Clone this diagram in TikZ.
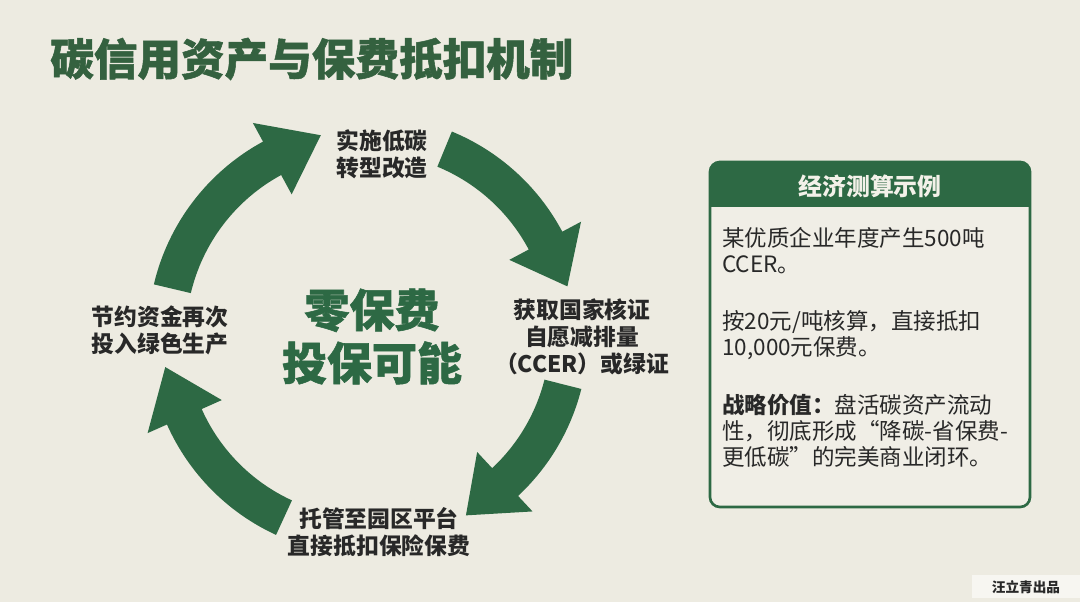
\documentclass[tikz,border=0pt]{standalone}
\usepackage{fontspec}
\usepackage{xcolor}
\usepackage{tikz}
\newfontfamily\cjk{Noto Sans CJK SC}
\newfontfamily\cjkheavy{Noto Sans CJK SC}[BoldFeatures={FakeBold=1.2}]
\definecolor{paper}{RGB}{237,235,225}
\definecolor{boxpaper}{RGB}{240,238,230}
\definecolor{leafgreen}{RGB}{45,105,68}
\definecolor{titlegreen}{RGB}{52,97,63}
\definecolor{inkgray}{RGB}{40,40,40}
\definecolor{cream}{RGB}{243,241,233}
\tikzset{
	steplabel/.style={align=center, text=inkgray, inner sep=0pt, font=\cjk\bfseries\fontsize{16.2}{19.2}\selectfont},
	bodytext/.style={align=left, anchor=west, text=inkgray, inner sep=0pt, font=\cjk\fontsize{16}{18.5}\selectfont},
	pics/ringarrow/.style n args={3}{code={
		\fill[leafgreen] (#1:5.5cm) arc[start angle=#1, end angle=#2, radius=5.5cm]
			-- (#2:6.03cm) -- (#3:5.13cm) -- (#2:4cm) -- (#2:4.55cm)
			arc[start angle=#2, end angle=#1, radius=4.55cm] -- cycle;
	}}
}

\begin{document}
\begin{tikzpicture}[x=0.025cm,y=0.025cm]
	\fill[paper] (0,0) rectangle (1080,602);
	\useasboundingbox (0,0) rectangle (1080,602);

	\node[anchor=west, inner sep=0pt, text=titlegreen, font=\cjkheavy\bfseries\fontsize{31}{36}\selectfont] (title) at (50,543) {碳信用资产与保费抵扣机制};

	% cycle
	\coordinate (cyc) at (368,267);
	\pic at (cyc) {ringarrow={166.7}{118.5}{103.3}};
	\pic at (cyc) {ringarrow={67.6}{28}{13.7}};
	\pic at (cyc) {ringarrow={-14.2}{-47}{-61.5}};
	\pic at (cyc) {ringarrow={-114.7}{-156}{-171}};

	\node[steplabel] (retrofit) at (382,448) {实施低碳\\转型改造};
	\node[steplabel] (ccer) at (582,265) {获取国家核证\\自愿减排量\\（CCER）或绿证};
	\node[steplabel] (offset) at (379,69.5) {托管至园区平台\\直接抵扣保险保费};
	\node[steplabel] (reinvest) at (160,272) {节约资金再次\\投入绿色生产};
	\node[align=center, text=leafgreen, inner sep=0pt, font=\cjkheavy\bfseries\fontsize{32}{37.7}\selectfont] (zero) at (372,265.5) {零保费\\投保可能};

	% example box
	\fill[boxpaper, rounded corners=7pt] (710,95) rectangle (1030,440);
	\begin{scope}
		\clip[rounded corners=7pt] (710,95) rectangle (1030,440);
		\fill[leafgreen] (710,395) rectangle (1030,440);
	\end{scope}
	\draw[leafgreen, line width=1.9pt, rounded corners=7pt] (710,95) rectangle (1030,440);
	\node[text=cream, inner sep=0pt, font=\cjk\bfseries\fontsize{17}{20}\selectfont] (boxhead) at (870,415.3) {经济测算示例};

	\node[bodytext] (costline) at (722,351.5) {某优质企业年度产生500吨\\CCER。};
	\node[bodytext] (priceline) at (722,267) {按20元/吨核算，直接抵扣\\10,000元保费。};
	\node[bodytext] (valueline) at (722,171.3) {{\bfseries 战略价值：}盘活碳资产流动\\性，彻底形成“降碳-省保费-\\更低碳”的完美商业闭环。};

	% credit
	\fill[white!55!paper] (972,4) rectangle (1080,27);
	\node[text=inkgray, inner sep=0pt, font=\cjk\bfseries\fontsize{9.7}{11}\selectfont] (credit) at (1026,14.5) {汪立青出品};
\end{tikzpicture}
\end{document}
